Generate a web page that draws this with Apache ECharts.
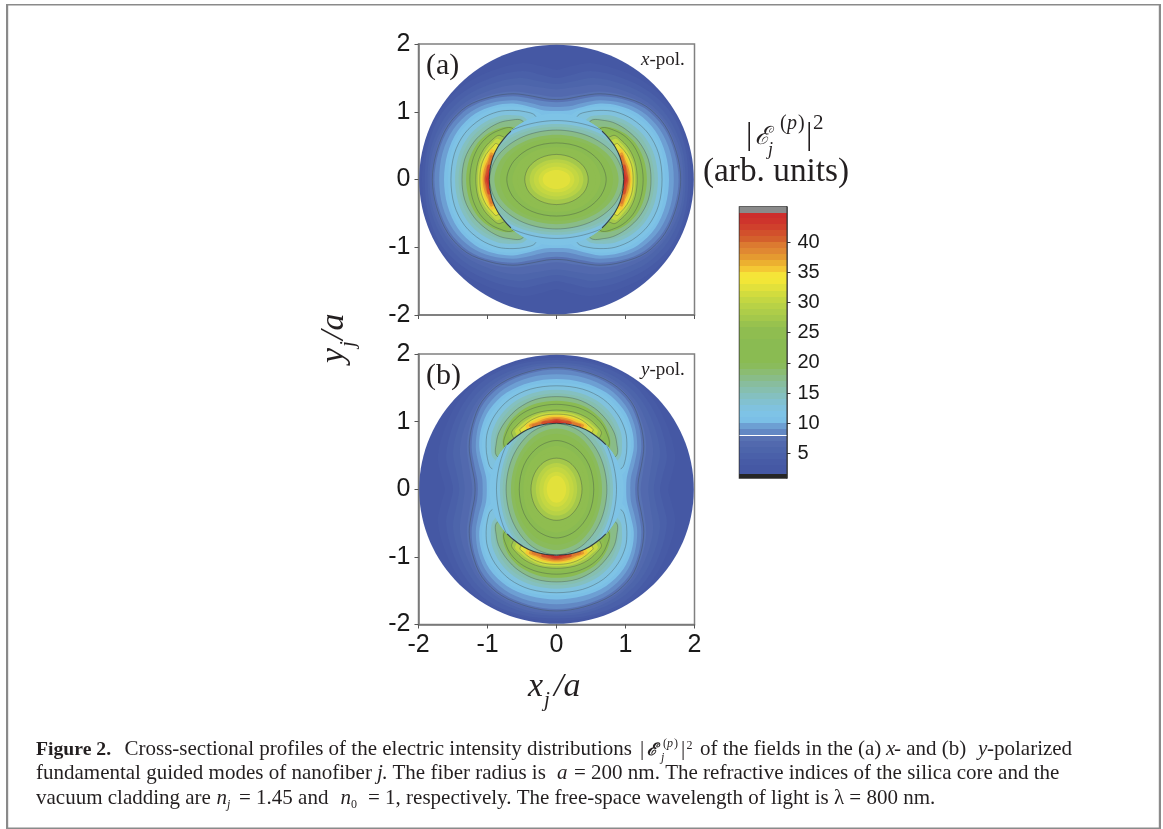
<!DOCTYPE html>
<html><head><meta charset="utf-8">
<style>html,body{margin:0;padding:0;background:#fff}#c{width:1163px;height:829px}</style>
<script src="https://cdn.jsdelivr.net/npm/echarts@6/dist/echarts.min.js"></script>
</head><body><div id="c"></div>
<script>
// ---- Axis ticks ----
const panelTicks = [-2, -1, 0, 1, 2];
const colorbarTicks = [5, 10, 15, 20, 25, 30, 35, 40];

// ---- Colour scale: band lower bounds and colours ----
const bandBounds = [0.9,1.52,3,4,5,6,7,7.95,8.1,9,10,11,12,13,14,15,16,17,18,19,20,24,26,27,28,29,30,31,32,33,34,35,36,37,38,39,40,41,42,43,44,44.8];
const bandColors = ['#262626','#4558a4','#475ba6','#4a60a9','#4d65ab','#5269ae','#5872b3','#ffffff','#6288c4','#6d9fd3','#7bbfe6','#7ec3e6','#80c2de','#82c1d0','#84c0c0','#86bfaf','#88bd9e','#89bc88','#8bbc72','#8abb5c','#8abb52','#8fbd50','#98c24e','#a4c84b','#aecd49','#b8d246','#c4d742','#d2dc3e','#e2e13b','#f2e637','#f5e438','#f4c834','#ecb030','#e59a30','#e08832','#dc7a30','#d4602c','#d2502c','#d0402c','#ce342c','#cd2e2c','#8a8a8a'];
const colorbarMax = 45.85;

// ---- Cladding iso-intensity curves, first quadrant of panel (a) ----
const clad3  = [[1.95,0],[1.89,.5],[1.7,1.0],[1.36,1.38],[.95,1.6],[.5,1.72],[.2,1.67],[0,1.62]];
const clad4  = [[1.91,0],[1.86,.5],[1.67,.97],[1.34,1.3],[.95,1.5],[.5,1.6],[.2,1.54],[0,1.5]];
const clad5  = [[1.87,0],[1.82,.46],[1.63,.9],[1.33,1.22],[.95,1.41],[.55,1.5],[.25,1.45],[0,1.41]];
const clad6  = [[1.84,0],[1.79,.44],[1.6,.85],[1.32,1.14],[.95,1.32],[.6,1.4],[.25,1.36],[0,1.33]];
const clad7  = [[1.81,0],[1.75,.42],[1.58,.82],[1.3,1.1],[.95,1.25],[.63,1.3],[.3,1.26],[0,1.22]];
const clad75 = [[1.8,0],[1.74,.4],[1.57,.8],[1.3,1.08],[.95,1.22],[.63,1.265],[.35,1.23],[.15,1.19],[0,1.18]];
const clad8  = [[1.77,0],[1.71,.4],[1.55,.77],[1.28,1.05],[.95,1.19],[.63,1.23],[.35,1.19],[.15,1.15],[0,1.14]];
const clad9  = [[1.7,0],[1.65,.4],[1.49,.75],[1.24,1.0],[.95,1.13],[.63,1.17],[.38,1.13],[.18,1.08],[0,1.07]];
const clad10 = [[1.63,0],[1.58,.38],[1.43,.72],[1.18,.97],[.9,1.09],[.63,1.12],[.38,1.07],[.18,1.02],[0,1.01]];
const clad11 = [[1.57,0],[1.53,.4],[1.38,.72],[1.15,.93],[.9,1.05],[.63,1.08],[.4,1.04],[.22,.96],[.12,.75]];
const clad125 = [[1.53,0],[1.48,.38],[1.33,.68],[1.1,.89],[.85,1.0],[.63,1.02],[.45,1.0],[.31,.945],[.2,.7]];
const clad14 = [[1.47,0],[1.42,.35],[1.28,.63],[1.08,.82],[.85,.93],[.65,.95],[.47,.92],[.36,.75]];
const clad15 = [[1.42,0],[1.37,.33],[1.24,.6],[1.05,.78],[.85,.87],[.67,.9],[.5,.89],[.4,.7]];
const clad175 = [[1.37,0],[1.33,.3],[1.2,.55],[1.03,.72],[.85,.83],[.7,.87],[.5,.87],[.4,.65]];
const clad20 = [[1.31,0],[1.27,.28],[1.17,.5],[1.02,.66],[.85,.75],[.7,.78],[.55,.75],[.45,.55]];
const clad225 = [[1.256,0],[1.22,.27],[1.13,.48],[1.0,.63],[.85,.72],[.65,.76],[.5,.55]];
const clad25 = [[1.21,0],[1.18,.25],[1.09,.45],[.97,.6],[.8,.7],[.6,.5]];
const clad275 = [[1.17,0],[1.14,.25],[1.06,.44],[.95,.57],[.82,.65],[.6,.45]];
const clad30 = [[1.14,0],[1.12,.22],[1.04,.4],[.94,.53],[.85,.6],[.6,.4]];
const clad325 = [[1.11,0],[1.09,.2],[1.02,.37],[.93,.48],[.87,.53],[.6,.3]];
const clad35 = [[1.09,0],[1.07,.17],[1.01,.33],[.93,.45],[.7,.2]];
const clad37 = [[1.07,0],[1.05,.15],[1.0,.28],[.94,.4],[.7,.15]];
const clad39 = [[1.05,0],[1.03,.13],[.99,.25],[.94,.36],[.7,.12]];
const clad41 = [[1.04,0],[1.02,.1],[.98,.22],[.7,.1]];
const clad43 = [[1.02,0],[1.0,.07],[.97,.15],[.7,.05]];
const claddingCurves = [clad3,clad4,clad5,clad6,clad7,clad75,clad8,clad9,clad10,clad11,clad125,clad14,clad15,clad175,clad20,clad225,clad25,clad275,clad30,clad325,clad35,clad37,clad39,clad41,clad43];
const claddingLevels = [3,4,5,6,7,7.5,8.2,9,10,11,12.5,14,15,17.5,20,22.5,25,27.5,30,32.5,35,37,39,41,43];

// ---- Core iso-intensity curves, first quadrant of panel (a) ----
const core115 = [[1.3,0],[1.13,.47],[.65,.81],[0,.93]];
const core125 = [[1.2,0],[1.04,.44],[.6,.75],[0,.87]];
const core14  = [[1.12,0],[.97,.41],[.56,.71],[0,.82]];
const core155 = [[1.06,0],[.92,.39],[.53,.68],[0,.78]];
const core175 = [[.97,0],[.84,.365],[.485,.632],[0,.73]];
const core19  = [[.9,0],[.78,.33],[.45,.57],[0,.66]];
const core205 = [[.82,0],[.71,.305],[.41,.53],[0,.61]];
const core225 = [[.72,0],[.62,.27],[.36,.47],[0,.54]];
const core24  = [[.64,0],[.55,.24],[.32,.42],[0,.48]];
const core255 = [[.57,0],[.49,.215],[.285,.37],[0,.43]];
const core275 = [[.46,0],[.4,.185],[.23,.32],[0,.37]];
const core29  = [[.39,0],[.34,.15],[.195,.26],[0,.3]];
const core30  = [[.33,0],[.285,.125],[.165,.215],[0,.25]];
const core31  = [[.26,0],[.225,.095],[.13,.165],[0,.19]];
const core32  = [[.2,0],[.175,.07],[.1,.12],[0,.14]];
const coreCurves = [core115,core125,core14,core155,core175,core19,core205,core225,core24,core255,core275,core29,core30,core31,core32];
const coreLevels = [11.5,12.5,14,15.5,17.5,19,20.5,22.5,24,25.5,27.5,29,30,31,32];

// Dark edge of the core next to the crescents, first quadrant of panel (a)
const coreEdgeArc = [[.975,0],[.96,.17],[.92,.33],[.85,.48],[.74,.63],[.66,.715]];
const contourLineLevels = [7.5,12.5,17.5,22.5,27.5,32.5];
const discRadius = 1.99, coreRadius = .975, discLevel = 2, coreLevel = 11;

function colorOf(v){let c=bandColors[0];for(let i=0;i<bandBounds.length;i++){if(v>=bandBounds[i])c=bandColors[i];}return c;}
const flipX=p=>[-p[0],p[1]], flipY=p=>[p[0],-p[1]], flipXY=p=>[-p[0],-p[1]];
function fullRing(q){ // closes a quadrant curve around the centre
  const a=q, b=q.slice(0,-1).reverse().map(flipX), c=q.slice(1).map(flipXY), d=q.slice(1,-1).reverse().map(flipY);
  return [a.concat(b,c,d)];
}
function lobeRings(q){ // two separate side lobes, which end under the core
  const right=q.concat(q.slice(1).reverse().map(flipY));
  return [right,right.map(flipX)];
}
function makeLayers(swap){
  const sw=r=>swap?r.map(p=>[p[1],p[0]]):r;
  const L=[];
  L.push({disc:discRadius,color:colorOf(discLevel)});
  claddingCurves.forEach((q,i)=>{
    const rings=q[q.length-1][0]===0?fullRing(q):lobeRings(q);
    L.push({rings:rings.map(sw),color:colorOf(claddingLevels[i]+.01),line:contourLineLevels.includes(claddingLevels[i])});
  });
  L.push({disc:coreRadius,color:colorOf(coreLevel+.01)});
  coreCurves.forEach((q,i)=>{
    L.push({rings:fullRing(q).map(sw),color:colorOf(coreLevels[i]+.01),line:contourLineLevels.includes(coreLevels[i]),clip:true});
  });
  const arcs=[coreEdgeArc,coreEdgeArc.map(flipX),coreEdgeArc.map(flipY),coreEdgeArc.map(flipXY)];
  L.push({arcs:arcs.map(sw)});
  return L;
}
function panelSeries(idx,swap){
  const layers=makeLayers(swap);
  return {type:'custom',xAxisIndex:idx,yAxisIndex:idx,clip:false,silent:true,coordinateSystem:'cartesian2d',
    data:layers.map(()=>[0,0]),
    renderItem(params,api){
      const l=layers[params.dataIndex], z=params.dataIndex;
      const c=api.coord([0,0]);
      const ell=r=>({cx:c[0],cy:c[1],rx:api.size([r,0])[0],ry:api.size([0,r])[1]});
      const P=r=>r.map(p=>api.coord(p));
      if(l.disc) return {type:'ellipse',z2:z,shape:ell(l.disc),style:{fill:l.color,stroke:'transparent',lineWidth:0}};
      if(l.arcs) return {type:'group',children:l.arcs.map(a=>({type:'polyline',z2:z,shape:{points:P(a),smooth:.33},style:{fill:'transparent',stroke:'rgba(40,40,40,.85)',lineWidth:1.1}}))};
      return {type:'group',children:l.rings.map(r=>{
        const el={type:'polygon',z2:z,shape:{points:P(r),smooth:.33,smoothConstraint:false},
          style:{fill:l.color,stroke:l.line?'rgba(60,70,70,.45)':'transparent',lineWidth:l.line?.8:0}};
        if(l.clip) el.clipPath={type:'ellipse',shape:ell(coreRadius)};
        return el;
      })};
    }};
}

const SERIF='"Liberation Serif","Times New Roman",serif', SANS='"Liberation Sans",Arial,sans-serif';
function T(x,y,text,size,opt){opt=opt||{};
  return {type:'text',x:x,y:y-size*.22,silent:true,z:20,style:{text:text,fill:opt.fill||'#231f20',verticalAlign:'middle',align:'left',
    font:(opt.italic?'italic ':'')+(opt.bold?'bold ':'')+size+'px '+(opt.family||SERIF)}};
}
function R(x,y,text,size,opt){opt=opt||{}; // rotated text: reads bottom to top
  return {type:'text',x:x,y:y,rotation:Math.PI/2,silent:true,z:20,style:{text:text,fill:'#231f20',verticalAlign:'bottom',align:'left',
    font:(opt.italic?'italic ':'')+size+'px '+SERIF}};
}
function B(x,y,w,h){return {type:'rect',silent:true,z:1,shape:{x:x,y:y,width:w,height:h},style:{fill:'#8a8a8a'}};}
const CAP=21;
const texts=[
 T(426,73,'(a)',30),T(426,383,'(b)',30),
 T(641,64,'x',19,{italic:1}),T(649.5,64,'-pol.',19),
 T(641,374,'y',19,{italic:1}),T(649.5,374,'-pol.',19),
 R(351,363,'y',34,{italic:1}),R(359,347,'j',21,{italic:1}),R(351,340,'/a',34,{italic:1}),
 T(528,695,'x',34,{italic:1}),T(544,705,'j',21,{italic:1}),T(554,695,'/a',34,{italic:1}),
 T(746,142.5,'|',32),T(755,143,'\u2130',25,{family:'"DejaVu Serif",serif',italic:1}),T(768,154,'j',18,{italic:1}),
 T(780,128,'(',20),T(787,128,'p',20,{italic:1}),T(798,128,')',20),T(806,142.5,'|',32),T(813,128,'2',21),
 T(703,180,'(arb. units)',33.3),
 // caption
 T(36,754,'Figure 2.',19.7,{bold:1}),T(124.5,754,'Cross-sectional profiles of the electric intensity distributions',CAP),
 T(640,754,'|',CAP),T(647,754,'\u2130',17,{bold:1,italic:1,family:'"DejaVu Serif",serif'}),T(661,760,'j',12,{italic:1}),T(663,746,'(',12),T(667,746,'p',12,{italic:1}),T(674,746,')',12),T(681,754,'|',CAP),T(686.5,748,'2',12),
 T(700,754,'of the fields in the (a)',CAP),T(886,754,'x',CAP,{italic:1}),T(894,754,'- and (b)',CAP),T(978,754,'y',CAP,{italic:1}),T(987,754,'-polarized',CAP),
 T(36,778.5,'fundamental guided modes of nanofiber',CAP),T(377,778.5,'j',CAP,{italic:1}),T(382,778.5,'. The fiber radius is',CAP),T(557,778.5,'a',CAP,{italic:1}),T(574,778.5,'= 200 nm. The refractive indices of the silica core and the',CAP),
 T(36,803,'vacuum cladding are',CAP),T(216.5,803,'n',CAP,{italic:1}),T(227,807,'j',12,{italic:1}),T(239,803,'= 1.45 and',CAP),T(340.5,803,'n',CAP,{italic:1}),T(351,807,'0',12),T(368,803,'= 1, respectively. The free-space wavelength of light is \u03bb = 800 nm.',CAP),
 B(6,4,1155,1.5),B(6,827.5,1155,1.5),B(6,4,2.2,825),B(1158.8,4,2.2,825)
];

const axisText={fontFamily:SANS,fontSize:25,color:'#1a1a1a'};
function xA(idx,labels){return {gridIndex:idx,type:'value',min:-2,max:2,interval:1,splitLine:{show:false},
  axisLine:{onZero:false,lineStyle:{color:'#777',width:1.5}},axisTick:{show:true,length:4,lineStyle:{color:'#555'},customValues:panelTicks},
  axisLabel:Object.assign({show:labels,margin:8,customValues:panelTicks},axisText)};}
function yA(idx){return {gridIndex:idx,type:'value',min:-2,max:2,interval:1,splitLine:{show:false},
  axisLine:{onZero:false,lineStyle:{color:'#777',width:1.5}},axisTick:{show:true,length:4,lineStyle:{color:'#555'},customValues:panelTicks},
  axisLabel:Object.assign({margin:8,padding:[8,0,0,0],customValues:panelTicks},axisText)};}

const option={animation:false,backgroundColor:'#fff',
 grid:[
  {left:418.5,top:44,width:276,height:271,show:true,borderColor:'#808080',borderWidth:1.5,backgroundColor:'#fff'},
  {left:418.5,top:354,width:276,height:270.5,show:true,borderColor:'#808080',borderWidth:1.5,backgroundColor:'#fff'},
  {left:739.5,top:207,width:47,height:271,show:true,borderColor:'#2e2e2e',borderWidth:1.5,backgroundColor:'#fff'}
 ],
 xAxis:[xA(0,false),xA(1,true),{gridIndex:2,type:'value',min:0,max:1,show:false}],
 yAxis:[yA(0),yA(1),{gridIndex:2,type:'value',position:'right',min:bandBounds[0],max:colorbarMax,splitLine:{show:false},
   axisLine:{show:true,onZero:false,lineStyle:{color:'#2e2e2e',width:1.5}},
   axisTick:{show:true,length:4,lineStyle:{color:'#2e2e2e'},customValues:colorbarTicks},
   axisLabel:{customValues:colorbarTicks,margin:11,padding:[4,0,0,0],fontFamily:SANS,fontSize:20,color:'#1a1a1a'}}],
 series:[panelSeries(0,false),panelSeries(1,true),
  {type:'custom',xAxisIndex:2,yAxisIndex:2,silent:true,clip:true,
   data:bandBounds.map((b,i)=>[b,i+1<bandBounds.length?bandBounds[i+1]:colorbarMax]),
   encode:{y:[0,1]},
   renderItem(p,api){
     const a=api.coord([0,api.value(0)]), b=api.coord([1,api.value(1)]);
     const y0=Math.round(b[1]), y1=Math.round(a[1]);
     return {type:'rect',shape:{x:a[0],y:y0,width:b[0]-a[0],height:Math.max(1,y1-y0)},style:{fill:bandColors[p.dataIndex],stroke:'transparent',lineWidth:0}};
   }}],
 graphic:texts};
echarts.init(document.getElementById('c'),null,{renderer:'canvas'}).setOption(option);
</script></body></html>
